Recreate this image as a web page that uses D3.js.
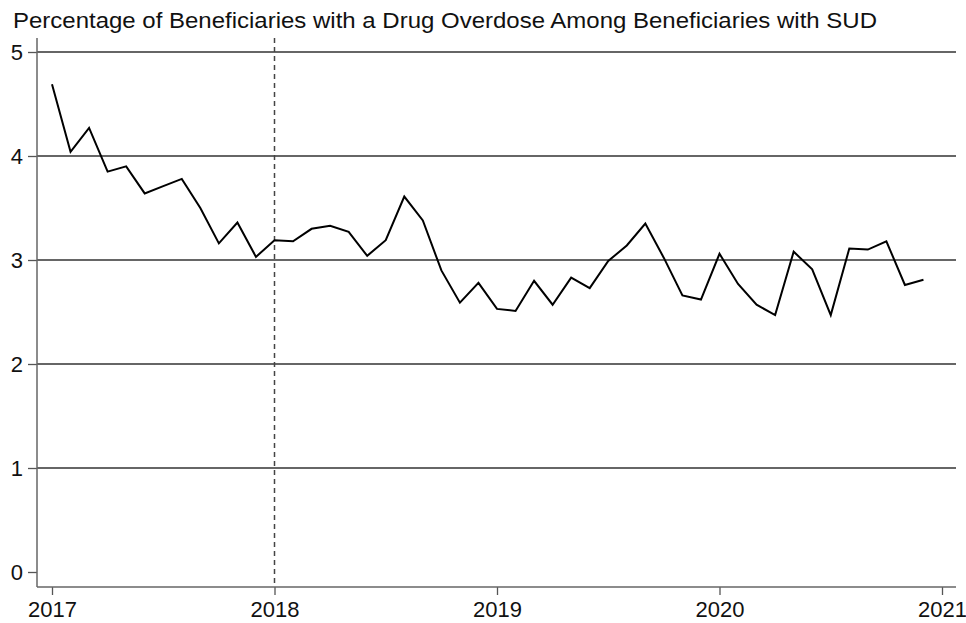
<!DOCTYPE html>
<html>
<head>
<meta charset="utf-8">
<script src="https://cdn.jsdelivr.net/npm/d3@7"></script>
<style>
  body { margin: 0; background: #fff; }
  svg { display: block; font-family: "Liberation Sans", Arial, Helvetica, sans-serif; }
</style>
</head>
<body>
<script>
"use strict";

// monthly series, Jan 2017 .. Dec 2020 (percent)
const overdosePct = [
  4.69, 4.04, 4.27, 3.85, 3.90, 3.64, 3.71, 3.78, 3.50, 3.16, 3.36, 3.03,
  3.19, 3.18, 3.30, 3.33, 3.27, 3.04, 3.19, 3.61, 3.38, 2.90, 2.59, 2.78,
  2.53, 2.51, 2.80, 2.57, 2.83, 2.73, 2.99, 3.14, 3.35, 3.02, 2.66, 2.62,
  3.06, 2.77, 2.57, 2.47, 3.08, 2.91, 2.47, 3.11, 3.10, 3.18, 2.76, 2.81
];
const yearLabels = ["2017", "2018", "2019", "2020", "2021"];
const yTicks = [0, 1, 2, 3, 4, 5];
const gridValues = [1, 2, 3, 4, 5];
const policyMonth = 12; // Jan 2018
const titleText = "Percentage of Beneficiaries with a Drug Overdose Among Beneficiaries with SUD";

const width = 966, height = 623;
const axisLeft = 37, axisRight = 956, axisBottom = 587, axisTop = 38;

const svg = d3.select("body").append("svg")
  .attr("width", width)
  .attr("height", height);

// month index -> px
const x = d3.scaleLinear()
  .domain([0, 48])
  .range([52, 942]);

const y = d3.scaleLinear()
  .domain([0, 5])
  .range([572, 52]);

// title (reference glyphs are a bit wider than Liberation Sans)
svg.append("text")
  .attr("x", 13)
  .attr("y", 28)
  .attr("font-size", 21.5)
  .attr("fill", "#111")
  .attr("textLength", 864)
  .attr("lengthAdjust", "spacingAndGlyphs")
  .text(titleText);

// horizontal grid
svg.append("g")
  .selectAll("line")
  .data(gridValues)
  .join("line")
  .attr("x1", axisLeft)
  .attr("x2", axisRight)
  .attr("y1", d => y(d))
  .attr("y2", d => y(d))
  .attr("stroke", "#333")
  .attr("stroke-width", 1.3);

// y axis
const yAxis = svg.append("g")
  .attr("transform", "translate(" + axisLeft + ",0)")
  .call(d3.axisLeft(y).tickValues(yTicks).tickSize(9).tickPadding(5).tickFormat(d3.format("d")));
yAxis.select(".domain").remove();
yAxis.append("line")
  .attr("y1", axisTop)
  .attr("y2", axisBottom)
  .attr("stroke", "#666")
  .attr("stroke-width", 1.5);
yAxis.selectAll(".tick line").attr("stroke", "#555").attr("stroke-width", 1.3);
yAxis.selectAll(".tick text")
  .attr("font-size", 22)
  .attr("fill", "#111")
  .attr("font-family", "Liberation Sans, Arial, sans-serif");

// x axis
const xAxis = svg.append("g")
  .attr("transform", "translate(0," + axisBottom + ")")
  .call(d3.axisBottom(x).tickValues([0, 12, 24, 36, 48]).tickSize(8).tickPadding(6)
    .tickFormat((d, i) => yearLabels[i]));
xAxis.select(".domain").remove();
xAxis.append("line")
  .attr("x1", axisLeft)
  .attr("x2", axisRight)
  .attr("stroke", "#666")
  .attr("stroke-width", 1.5);
xAxis.selectAll(".tick line").attr("stroke", "#555").attr("stroke-width", 1.3);
xAxis.selectAll(".tick text")
  .attr("font-size", 22)
  .attr("fill", "#111")
  .attr("font-family", "Liberation Sans, Arial, sans-serif");

// policy line
svg.append("line")
  .attr("x1", x(policyMonth))
  .attr("x2", x(policyMonth))
  .attr("y1", axisTop)
  .attr("y2", axisBottom)
  .attr("stroke", "#444")
  .attr("stroke-width", 1.5)
  .attr("stroke-dasharray", "5,4");

// series
const line = d3.line()
  .x((d, i) => x(i))
  .y(d => y(d));

svg.append("path")
  .datum(overdosePct)
  .attr("fill", "none")
  .attr("stroke", "#000")
  .attr("stroke-width", 2)
  .attr("stroke-linejoin", "miter")
  .attr("d", line);
</script>
</body>
</html>
